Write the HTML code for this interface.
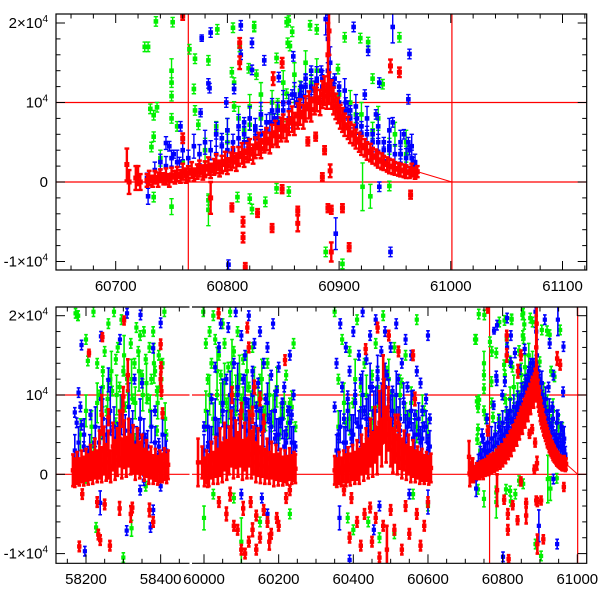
<!DOCTYPE html>
<html><head><meta charset="utf-8"><title>Light curve</title>
<style>
html,body{margin:0;padding:0;background:#fff;}
svg{display:block;font-family:"Liberation Sans",Arial,sans-serif;}
</style></head>
<body>
<svg id="chart" width="600" height="600" viewBox="0 0 600 600">
<defs>
<clipPath id="clipTop"><rect x="56" y="14" width="530.7" height="256"/></clipPath>
<clipPath id="clipB1"><rect x="56" y="307" width="134" height="256.3"/></clipPath>
<clipPath id="clipB2"><rect x="192" y="307" width="394.7" height="256.3"/></clipPath>
</defs>
<g id="gTop"></g>
<g id="gBot"></g>
</svg>
<script>
// ---- Data (MJD, flux in units of 1000, error in 1000) ----
const seasonLabelsTop = [60700, 60800, 60900, 61000, 61100];
const seasonLabelsBot1 = [58200, 58400];
const seasonLabelsBot2 = [60000, 60200, 60400, 60600, 60800, 61000];
const yTickValues = [20, 10, 0, -10];
const yTickLabels = ["2×10|4", "10|4", "0", "-1×10|4"];
const verticalMarkers = [60765, 61001];
const horizontalMarkers = [0, 10];

const redPoints = [
[58165,.5,2],[58170,.2,1.8],[58176,.8,2],[58182,.3,1.7],[58188,1,2],[58194,.4,1.8],[58200,1.2,2],[58206,.6,1.9],[58212,1.5,2.2],[58218,.8,2],[58224,2,2.5],[58230,1,2],[58236,2.5,3],[58242,1.2,2.2],[58248,3,3],[58254,1.5,2.3],[58260,2.5,3],[58266,1,2],[58272,3.5,3],[58278,1.8,2.5],[58284,2.8,3],[58290,4.5,3.5],[58296,2,2.5],[58302,3.8,3],[58308,2.2,2.5],[58314,4,3],[58320,2.5,2.5],[58326,3.2,3],[58332,1.5,2.2],[58338,3,2.8],[58344,1.8,2.3],[58350,2.5,2.5],[58356,1.2,2],[58362,2,2.3],[58368,.8,2],[58374,1.5,2],[58380,.6,1.8],[58386,1.2,2],[58392,.5,1.8],[58398,1,2],[58404,.8,1.8],[58410,1.3,2],[58416,.7,1.8],[58420,1.2,1.8],
[58300,9.8,1.2],[58298,8,2],[58312,12.5,2],[58244,17.3,.5],[58242,7.5,2.5],[58260,7.2,1],[58208,15.3,.4],[58302,19.4,.5],[58400,16.4,.6],[58401,13.5,.6],[58400,12,.6],[58402,10.5,.6],[58405,7.7,.6],
[58182,-9.1,.6],[58233,-7.6,.6],[58238,-8.3,.6],[58264,-9,.6],[58250,-3.8,.6],[58290,-4.3,.8],[58320,-5,1],[58324,-4.2,.6],[58370,-4.5,.8],[58380,-6,.6],[58190,-2.5,.6],[58230,-3.5,.6],
[59984,1.5,3],[59995,1.5,2],[60001,.3,1.8],[60007,1,2],[60013,.5,2],[60019,1.8,2.3],[60025,.8,2],[60031,2.2,2.5],[60037,1,2.2],[60043,2.8,3],[60049,1.5,2.5],[60055,3.5,3],[60061,1.8,2.5],[60067,3,3],[60073,4.5,3.5],[60079,2,2.5],[60085,3.8,3],[60091,2.5,2.8],[60097,4.2,3.2],[60103,1.8,2.5],[60109,3.5,3],[60115,2,2.5],[60121,4.5,3.5],[60127,2.5,3],[60133,3,3],[60139,1.5,2.5],[60145,2.8,3],[60151,1.2,2.3],[60157,2.5,2.8],[60163,1,2.2],[60169,2,2.5],[60175,.8,2],[60181,1.8,2.3],[60187,.5,2],[60193,1.5,2.2],[60199,.6,2],[60205,1.2,2],[60211,.4,1.8],[60217,1,2],[60223,.5,1.8],[60229,1.3,2],[60235,.6,1.8],[60241,1,1.8],[60245,.7,1.8],
[60039,20.3,.6],[60116,18.5,.6],[60120,16,.6],[60135,11,.8],[60150,9.5,.8],[60217,14.4,.6],[60075,10,1],[60130,7.5,1],[60160,6.5,1],[60100,8,1],
[60040,-3.5,.6],[60060,-5,.8],[60080,-6.5,.6],[60090,-7,.6],[60100,-9.5,.6],[60110,-10,.6],[60120,-8.5,.6],[60130,-7,.8],[60140,-9.5,.6],[60150,-8,.6],[60160,-4.5,.6],[60170,-6,.6],[60180,-7.5,.6],[60200,-6.5,.6],[60220,-3,.6],[60230,-2,.6],[60070,-2.5,.8],[60010,-1,.6],[60105,-4.3,.8],[60125,-3.5,.6],[60140,-5.2,.6],[60175,-8.5,1],[60195,-5.5,.6],
[60350,.5,1.8],[60356,.2,1.8],[60362,.8,2],[60368,.3,1.8],[60374,1,2],[60380,.5,2],[60386,1.2,2.2],[60392,.6,2],[60398,1.5,2.2],[60404,.8,2],[60410,1.8,2.5],[60416,1,2.2],[60422,2.5,2.5],[60428,1.5,2.3],[60434,3,2.8],[60440,2,2.5],[60446,4,3],[60452,2.5,2.8],[60458,5,3.5],[60464,3,3],[60470,6.5,4],[60476,4,3],[60482,8,4],[60488,5,3.5],[60494,7,4],[60500,4,3],[60506,3,2.8],[60512,4.5,3],[60518,2.5,2.5],[60524,3.5,2.8],[60530,2,2.5],[60536,3,2.5],[60542,1.5,2.2],[60548,2.5,2.5],[60554,1.2,2.2],[60560,2,2.3],[60566,1,2],[60572,1.5,2],[60578,.8,2],[60584,1.2,2],[60590,.6,1.8],[60596,1,1.8],[60602,.5,1.8],[60608,.8,1.8],
[60433,15.8,.6],[60465,18.5,.6],[60480,11,4],[60495,17.5,.6],[60521,15.5,.6],[60560,15,.6],[60565,9.5,.8],[60520,6.5,1],
[60390,-8,.6],[60410,-6,.6],[60420,-9,.6],[60430,-5,.6],[60445,-4.2,.6],[60450,-8.5,.6],[60460,-5.5,.6],[60470,-10.5,.6],[60480,-6.5,.6],[60490,-9.5,3],[60500,-4.5,.6],[60510,-7,.6],[60530,-9.5,.6],[60540,-4,.6],[60550,-7.5,.6],[60570,-5,.6],[60580,-9,.6],[60590,-6.5,.6],[60600,-3.5,.6],[60395,-3,.6],[60375,-2,.6],
[60710,2.2,2],[60712,0,1.5],[60718,.5,1.5],[60720,.8,1.2],[60722,0,1],
[60728,.2,.8],[60730,.5,.9],[60733,.1,.7],[60735,.6,.8],[60738,.3,.9],[60740,.8,.8],[60743,.4,.7],[60745,.7,1],[60748,.2,.8],[60750,.9,.9],[60753,.6,.8],[60755,1,.9],[60758,.7,.8],[60760,1.3,1],[60763,.8,.9],[60765,1.1,.9],[60768,1.5,1],[60770,.9,.8],[60773,1.3,.9],[60775,1.7,1],[60778,1.2,.9],[60780,1.6,1],[60783,2,1.1],[60785,1.4,.9],[60788,1.9,1],[60790,2.3,1.2],[60793,1.7,1],[60795,2.2,1.1],[60798,2.6,1.2],[60800,2,1],[60803,2.6,1.1],[60805,3.1,1.3],[60808,2.5,1.1],[60810,3.2,1.2],[60813,3.6,1.3],[60815,3,1.1],[60818,3.7,1.2],[60820,4.1,1.3],[60823,3.5,1.2],[60825,4.3,1.3],[60828,4.8,1.4],[60830,4.2,1.2],[60833,5,1.3],[60835,5.4,1.4],[60838,4.9,1.3],[60840,5.8,1.4],[60843,6.2,1.5],[60845,5.7,1.3],[60848,6.6,1.5],[60850,7,1.5],[60853,6.5,1.4],[60855,7.4,1.5],[60858,7.9,1.6],[60860,7.3,1.4],[60863,8.3,1.6],[60865,8.8,1.6],[60868,8.2,1.5],[60870,9.2,1.6],[60873,9.7,1.7],[60875,9.1,1.5],[60878,10.2,1.7],[60880,10.6,1.7],[60883,10,1.6],[60885,11,1.7],[60887,11.5,1.8],[60889,10.8,1.6],[60891,11.8,2],[60893,11,1.8],[60895,10.2,1.7],[60897,9.5,1.6],[60899,9,1.6],[60901,8.2,1.5],[60903,7.8,1.5],[60905,7.2,1.4],[60908,6.8,1.4],[60910,6.2,1.3],[60913,5.9,1.3],[60915,5.4,1.2],[60918,5,1.2],[60920,4.6,1.2],[60923,4.3,1.1],[60925,3.9,1.1],[60928,3.7,1.1],[60930,3.3,1],[60933,3.1,1],[60935,2.8,1],[60938,2.6,1],[60940,2.4,.9],[60943,2.2,.9],[60945,2,.9],[60948,1.9,.9],[60950,1.7,.8],[60953,1.6,.8],[60955,1.5,.8],[60958,1.4,.8],[60960,1.3,.8],[60963,1.2,.7],[60965,1.5,.8],[60968,1.1,.7],[60970,1.3,.7],
[60890,16,4],[60891,19,3],[60760,20.9,.5],[60760,5.5,.6],[60814,-5,.6],[60814,-7,.6],[60816,-10.7,.5],[60804,-3.2,.5],[60827,-3.9,.5],[60840,-5.8,.5],[60849,-.9,.5],[60863,-5.2,1],[60841,13,.8],[60849,15,.6],[60811,17.5,.6],[60811,15,.8],[60785,-2,2],
[60872,5.1,.5],[60879,5.7,.5],[60887,4,.5],[60892,1.4,.8],[60885,.6,.5],[60890,-3.3,.5],[60893,-3.5,.5],[60903,-3.3,.5],[60964,-1.6,.5],[60946,14.6,.8],[60954,13.8,.6],[60863,-3.6,.5],[60893,-8.8,1.2],[60909,-8.2,.5]
];

const bluePoints = [
[58170,7.8],[58175,6.5],[58180,10.3],[58185,8.5],[58188,6.2],[58194,3.5],[58188,16.3],[58212,7.5],[58222,4],[58240,9.5,1.5],[58240,17.4],[58260,11.9,1.5],[58270,5.5],[58291,17],[58309,-7.1],[58310,20.3],[58330,12],[58340,5],[58346,20.1],[58350,11.5],[58360,4.5],[58380,15.9],[58373,-6.7],[58380,-4.5],[58400,19.1],[58385,8],[58395,3.5],[58400,-1.5],[58410,2.5],[58238,-3.6,1.5],[58197,-9.7],[58345,-2],[58355,-.8],
[58205,2.5,1],[58250,3.5,1.5],[58280,4.5,1.5],[58320,5,2],[58360,2.5,1.5],[58415,3,1.2],
[60000,6],[60010,3.5],[60020,9.5],[60030,13.5],[60040,16],[60045,19],[60050,8],[60060,12],[60065,18.5],[60070,5.5],[60080,14],[60085,20.5],[60090,10],[60095,7],[60100,17.5],[60105,12],[60110,15],[60115,9],[60120,20],[60125,6],[60130,13],[60135,16.5],[60140,8.5],[60145,11.5],[60150,18],[60155,5.5],[60160,14],[60165,9.5],[60170,16],[60175,7],[60180,12.5],[60185,19],[60190,4.5],[60195,10.5],[60200,13.5],[60205,6.5],[60210,9],[60215,11],[60220,5],[60225,8],[60230,15],[60235,7.5],[60240,10],[60245,3.5],[60170,-5],[60155,-3],[60100,-2.5],
[60015,4,2],[60035,5,2],[60055,4.5,2],[60075,6,2.5],[60095,5,2],[60115,5.5,2.5],[60135,4.5,2],[60155,6,2.5],[60175,4,2],[60195,5,2],[60215,3.5,2],[60235,4,2],
[60350,8.5],[60355,14],[60360,5],[60365,19],[60370,11],[60375,7],[60380,16],[60385,9.5],[60390,13],[60395,4.5],[60400,18],[60405,10],[60410,6.5],[60415,15],[60420,12],[60425,20.5],[60430,8],[60435,14.5],[60440,5.5],[60445,17.5],[60450,11],[60455,7.5],[60460,19.5],[60465,13],[60470,9],[60475,15.5],[60480,6],[60485,18],[60490,12.5],[60495,8.5],[60500,16],[60505,10.5],[60510,7],[60515,19],[60520,12],[60525,5.5],[60530,14],[60535,9],[60540,17],[60545,11],[60550,6.5],[60555,15],[60560,10],[60565,7.5],[60570,13],[60575,5],[60580,11.5],[60585,8],[60590,6],[60595,9.5],[60600,4],[60605,7],[60600,17.5],[60363,-5.5,1.5],[60390,-10.8],[60470,-4],[60455,-7],[60550,-2.5],[60600,-3.5,1.5],
[60360,3,2],[60380,4,2],[60400,5,2.5],[60420,6,2.5],[60440,7,3],[60460,8,3],[60480,9,3],[60500,7,3],[60520,6,2.5],[60540,5,2.5],[60560,4.5,2],[60580,4,2],[60600,3,2],
[60728,.5],[60729,-1.8,1],[60745,4.9,.8],[60748,4.5],[60752,3.5,.5],[60758,7,.6],[60757,2.5],[60776,8.7,.5],[60777,18.1,.4],[60783,12.4,.6],[60785,18.8,.6],[60784,11.8],[60790,6],[60795,5.5],[60799,10],[60801,-10.4],[60806,11.7],[60812,19.7],[60812,16],[60815,7.5],[60818,5],[60822,14.1],[60822,17.5],[60825,6.5],[60830,6],[60833,15.3],[60846,13.2],[60842,8],[60845,7.5],[60850,9],[60859,15.8],[60858,11],[60862,10],[60866,12],[60870,13],[60875,14],[60880,12.5],[60884,14],[60888,20.5,2],[60890,18,3],[60892,15,2],[60896,13],[60900,12],[60913,19.5],[60906,10],[60910,9],[60916,8],[60920,7],[60923,11],[60926,16.5],[60930,6],[60933,8.5],[60936,12.5],[60940,5],[60948,19.5,2],[60945,4.5],[60948,7.5],[60962,10.4],[60955,3.5],[60958,6],[60963,16.1],[60963,4],[60966,2.5],[60968,2],[60946,-8.8,.6],[60936,-.6],[60962,5],[60897,-6.5,2],
[60790,3.5,1],[60800,4,1],[60805,5,1],[60810,5.5,1],[60815,6,1],[60825,7,1],[60835,7.5,1],[60845,9,1],[60855,10,1],[60865,11,1],[60875,12,1],[60885,13,1],[60895,12,1],[60905,9,1],[60915,7,1],[60925,6,1],[60935,5,1],[60945,4,1],[60955,3.5,1],[60965,3,1]
];

const blueExtraPoints = [
[58170,3,2],[58180,4,2],[58195,5,2],[58210,3,2],[58225,6,2.5],[58235,4,2],[58245,7,2.5],[58255,5,2],[58265,8,3],[58275,6,2.5],[58285,4.5,2],[58295,7.5,2.5],[58305,5.5,2],[58315,8.5,3],[58325,6,2],[58335,4,2],[58345,7,2.5],[58355,5,2],[58365,3.5,2],[58375,6,2],[58385,4,2],[58395,2.5,2],[58405,5,2],[58412,3,2],
[60000,3,2],[60010,6,2],[60020,4,2],[60030,7,2.5],[60040,5,2],[60050,9,3],[60060,6,2],[60070,10,3],[60080,7,2.5],[60090,11,3],[60100,6,2],[60110,9.5,3],[60120,7,2.5],[60130,10,3],[60140,6,2],[60150,8,2.5],[60160,5.5,2],[60170,9,2.5],[60180,6,2],[60190,8,2.5],[60200,5,2],[60210,7,2.5],[60220,4,2],[60230,6.5,2],[60240,4,2],
[60355,3,2],[60365,6,2],[60375,4,2],[60385,8,2.5],[60395,5.5,2],[60405,9,2.5],[60415,6,2],[60425,10,3],[60435,7,2.5],[60445,11,3],[60455,8,2.5],[60465,12,3],[60475,9,2.5],[60485,11,3],[60495,9.5,2.5],[60505,8,2.5],[60515,10,3],[60525,7,2.5],[60535,9,2.5],[60545,6,2],[60555,8,2.5],[60565,5,2],[60575,7,2],[60585,4.5,2],[60595,6,2],[60605,3.5,2],
[60735,1.5,1],[60740,2.5,1],[60745,2,1.2],[60750,3,1],[60755,2.5,1.5],[60760,4,1.2],[60765,3,1],[60770,4.5,1.5],[60775,3.5,1.2],[60780,5,1.5],[60785,4,1.2],[60790,6,1.5],[60795,4.5,1.2],[60800,6.5,1.5],[60805,4,1],[60810,7,1.5],[60815,5,1.2],[60820,8,1.5],[60825,5.5,1.2],[60830,8.5,1.5],[60835,6.5,1.2],[60840,9,1.5],[60845,7,1.2],[60850,10,1.5],[60855,8,1.2],[60860,11,1.5],[60865,9.5,1.2],[60870,12,1.5],[60875,10.5,1.2],[60880,13,1.5],[60885,12,1.5],[60890,14,2],[60895,11,1.5],[60900,10,1.5],[60905,11.5,1.5],[60910,8,1.2],[60915,9.5,1.5],[60920,6,1.2],[60925,8,1.5],[60930,5,1.2],[60935,7,1.5],[60940,4,1.2],[60945,6.5,1.5],[60950,3.5,1.2],[60955,5,1.5],[60960,3,1.2],[60965,4.5,1.5],[60968,2.5,1],[60838,7.5,1.2],[60868,10.8,1.2],[60878,11.5,1.2],[60908,9,1.2]
];

const greenPoints = [
[58172,20.3],[58178,20],[58179,20],[58200,17],[58205,14.3],[58220,20.5],[58230,14],[58235,10],[58245,13],[58250,15.5],[58255,8],[58260,19],[58265,12],[58270,10.5],[58275,20.5],[58280,14.5],[58285,16],[58290,11],[58295,19.5],[58300,13],[58305,8.5],[58310,12],[58320,16.5],[58325,9.5],[58330,14],[58335,18.5],[58340,15.5],[58345,17.5],[58350,12.5],[58355,18],[58360,14.5],[58365,9.5],[58370,16],[58375,12],[58380,18],[58385,13],[58390,10.5],[58395,15],[58400,11],[58405,14],[58410,20.5],[58415,5],[58227,-6.7],[58300,-10.5],[58322,-6.8,1],[58240,5],[58220,3.5],[58280,6.5],[58330,4.5],[58390,5.5],[58360,-1.5],[58200,-.5],
[59998,20.5],[60005,16.5],[60010,12],[60015,18],[60020,14],[60025,20],[60030,17],[60035,10],[60040,15],[60045,12.5],[60050,19],[60055,16.5],[60060,9],[60065,13.5],[60070,20.5],[60075,11],[60080,15.5],[60085,8],[60090,18],[60095,12],[60100,9.5],[60105,14.5],[60110,7],[60120,11],[60130,16],[60140,5.5],[60150,12],[60160,8],[60170,14],[60180,6],[60190,10],[60200,4.5],[60210,7.5],[60220,12.5],[60230,9],[60240,16.5],[60245,6],[60000,-5.5,1.5],[60100,-8.5,3],[60150,-6],[60230,-5],[60080,-3],[60025,-2.5],
[60350,20.5],[60360,12],[60370,17],[60380,6.5],[60390,15.5],[60400,9],[60410,19.5],[60420,11],[60430,14],[60440,7],[60450,12.5],[60460,16.5],[60470,8.5],[60480,20],[60490,13],[60500,10],[60510,16],[60520,6],[60530,11.5],[60540,15],[60550,7.5],[60560,10],[60570,19.5],[60580,5],[60590,8],[60385,-5.5],[60400,-7],[60440,-6],[60470,-8],[60510,-7.5],[60560,-2.5],[60600,-4],[60355,-1],
[60726,17],[60729,17],[60736,20.2],[60751,20.1],[60750,14,1.5],[60750,12.5],[60750,10.8],[60731,9.2],[60734,8.4],[60737,9.4],[60750,8],[60755,7],[60734,5.7],[60732,4.4],[60734,-1.9],[60750,-3.1,1],[60766,16.7],[60771,15.5],[60770,11.7],[60771,9],[60774,7.2],[60783,15.3],[60783,-2.3],[60783,-3.5,2],[60791,19.2],[60804,13.8],[60806,12.5],[60806,9.5],[60811,17],[60819,14.3],[60822,-3.4],[60824,19.6],[60826,13.5],[60834,-2.5],[60844,15.6],[60844,-.8],[60855,-1.2],[60853,20.1],[60858,18.9],[60854,17.5],[60853,11.1],[60850,7],[60820,7.2],[60790,7],
[60805,19.4],[60824,19.5],[60855,20.3],[60874,19.7],[60880,19.2],[60905,18.2],[60919,18.1],[60926,17.6],[60954,18.2],[60856,17.1],[60899,14.2],[60939,12.3],[60930,13],[60921,-.6,3],[60945,-.5],[60928,-1.8,1.5],[60820,-2.1],[60809,-1.9],[60888,-8.8],[60903,-10.3],
[60800,5,1],[60815,6.5,1],[60830,8,1],[60845,9.5,1],[60860,11,1],[60875,12.5,1],[60900,11,1],[60915,8.5,1],[60930,6.5,1],[60945,4.5,1],[60960,3.5,1]
];

const greenExtraPoints = [
[58185,5,2],[58200,8,2],[58215,6,2],[58230,9,2.5],[58245,11,2.5],[58258,9.5,2.5],[58268,13,2.5],[58282,10,2.5],[58292,8,2],[58302,15,2.5],[58312,10.5,2],[58322,12,2.5],[58332,9,2],[58342,13,2.5],[58352,10,2],[58362,11.5,2.5],[58372,8,2],[58382,14,2.5],[58392,9,2],[58402,12,2.5],[58412,7,2],
[60005,8,2.5],[60015,10,2.5],[60025,7,2],[60035,13,3],[60045,9,2.5],[60055,11.5,2.5],[60065,8,2],[60075,14,3],[60085,10,2.5],[60095,12.5,2.5],[60105,9,2],[60115,13,2.5],[60125,8.5,2],[60135,11,2.5],[60145,9,2],[60155,12,2.5],[60165,7.5,2],[60175,10,2.5],[60185,8,2],[60195,11,2.5],[60205,7,2],[60215,9,2],[60225,6.5,2],[60235,8.5,2],
[60360,6,2],[60375,9,2.5],[60390,7,2],[60405,12,2.5],[60420,8,2],[60435,10,2.5],[60450,6.5,2],[60465,11,2.5],[60480,9,2],[60495,12,2.5],[60510,8,2],[60525,10,2.5],[60540,7,2],[60555,9,2],[60570,6,2],[60585,8,2],[60600,5,2],
[60740,3,1],[60760,2.5,1.5],[60780,4,1.5],[60800,6.5,1.5],[60810,8,1.5],[60820,9.5,1.5],[60830,11,1.5],[60840,10,1.5],[60850,12.5,1.5],[60860,13.5,1.5],[60870,15,1.5],[60880,14,1.5],[60910,10,1.5],[60920,8.5,1.5],[60935,8,1.5],[60950,6,1.5],[60960,5,1.5],[60845,9,1.2],[60865,11.5,1.2]
];

// ---- scales ----
const NS = "http://www.w3.org/2000/svg";
function xTop(v){ return 115.7 + (v - 60700) * 1.117; }
function yTop(f){ return 182 - f * 7.95; }
function xBot(v){ return v < 59000 ? 86 + (v - 58200) * 0.3733 : 204 + (v - 60000) * 0.3733; }
function yBot(f){ return 474.3 - f * 7.93; }

function mk(tag, attrs, parent){
  const e = document.createElementNS(NS, tag);
  for (const k in attrs) e.setAttribute(k, attrs[k]);
  parent.appendChild(e);
  return e;
}
const colors = { red: "#ff0000", green: "#00f000", blue: "#0000ff" };

function drawSeries(parent, pts, colorName, xf, yf, clip, cap, sw, ms){
  const g = mk("g", {"clip-path": "url(#" + clip + ")"}, parent);
  
  
  const c = colors[colorName];
  pts.forEach(function(p){
    const e = p.length > 2 ? p[2] : 0.6;
    const x = xf(p[0]), y = yf(p[1]);
    const y1 = yf(p[1] - e), y2 = yf(p[1] + e);
    const bar = mk("path", {d: "M" + x + " " + y1 + "V" + y2 + "M" + (x-cap) + " " + y1 + "H" + (x+cap) + "M" + (x-cap) + " " + y2 + "H" + (x+cap), stroke: c, "stroke-width": sw, fill: "none"}, g);
    
    
    const r = mk("rect", {x: x - ms/2, y: y - ms/2, width: ms, height: ms, fill: c}, g);
    
    
  });
}

function drawTicksY(parent, yf, x0, x1, yTopEdge, yBotEdge){
  for (let v = -10; v <= 20; v += 2){
    const y = yf(v);
    if (y < yTopEdge || y > yBotEdge) continue;
    const len = (v % 10 === 0) ? 9 : 4.5;
    mk("line", {x1: x0, y1: y, x2: x0 + len, y2: y, stroke: "#000", "stroke-width": 1}, parent);
    mk("line", {x1: x1, y1: y, x2: x1 - len, y2: y, stroke: "#000", "stroke-width": 1}, parent);
  }
}
function drawYLabels(parent, yf){
  yTickValues.forEach(function(v, i){
    const parts = yTickLabels[i].split("|");
    const t = mk("text", {x: 48, y: yf(v) + 5, "text-anchor": "end", "font-size": 15, fill: "#000"}, parent);
    
    
    t.appendChild(document.createTextNode(parts[0]));
    if (parts.length > 1){
      const s = mk("tspan", {dy: -6, "font-size": 10}, t);
      s.textContent = parts[1];
    }
  });
}

const allBlue = bluePoints.concat(blueExtraPoints);
const allGreen = greenPoints.concat(greenExtraPoints);

// ---- TOP PANEL ----
const gTop = document.getElementById("gTop");
const L = 56, R = 586.7;
horizontalMarkers.forEach(function(v){
  const l = mk("line", {x1: L, x2: R, y1: yTop(v), y2: yTop(v), stroke: "#ff0000", "stroke-width": 1.2}, gTop);
  
  
});
verticalMarkers.forEach(function(v){
  const l = mk("line", {x1: xTop(v), x2: xTop(v), y1: 14, y2: 270, stroke: "#ff0000", "stroke-width": 1.2}, gTop);
  
  
});
const tailT = mk("line", {x1: xTop(60970), y1: yTop(1.3), x2: xTop(61001), y2: yTop(0), stroke: "#ff0000", "stroke-width": 1}, gTop);


drawSeries(gTop, allGreen, "green", xTop, yTop, "clipTop", 2.2, 1.4, 4.6);
drawSeries(gTop, allBlue, "blue", xTop, yTop, "clipTop", 2.2, 1.4, 4.6);
drawSeries(gTop, redPoints, "red", xTop, yTop, "clipTop", 2.4, 2.4, 5);
const fT = mk("rect", {x: L, y: 14, width: R - L, height: 256, fill: "none", stroke: "#000", "stroke-width": 1.2}, gTop);


for (let v = 60660; v <= 61120; v += 20){
  const x = xTop(v);
  if (x < L || x > R) continue;
  const len = (v % 100 === 0) ? 9 : 4.5;
  mk("line", {x1: x, x2: x, y1: 270, y2: 270 - len, stroke: "#000"}, gTop);
  mk("line", {x1: x, x2: x, y1: 14, y2: 14 + len, stroke: "#000"}, gTop);
}
drawTicksY(gTop, yTop, L, R, 14, 270);
seasonLabelsTop.forEach(function(v){
  const t = mk("text", {x: xTop(v), y: 291, "text-anchor": "middle", "font-size": 15}, gTop);
  
  
  t.textContent = v;
});
drawYLabels(gTop, yTop);

// ---- BOTTOM PANEL ----
const gBot = document.getElementById("gBot");
const BT = 307, BB = 563.3;
horizontalMarkers.forEach(function(v){
  [[L, 189.5], [192, R]].forEach(function(seg){
    const l = mk("line", {x1: seg[0], x2: seg[1], y1: yBot(v), y2: yBot(v), stroke: "#ff0000", "stroke-width": 1.2}, gBot);
    
    
  });
});
verticalMarkers.forEach(function(v){
  const l = mk("line", {x1: xBot(v), x2: xBot(v), y1: BT, y2: BB, stroke: "#ff0000", "stroke-width": 1.2}, gBot);
  
  
});
const tailB = mk("line", {x1: xBot(60970), y1: yBot(1.3), x2: xBot(61001), y2: yBot(0), stroke: "#ff0000", "stroke-width": 1}, gBot);


["clipB1", "clipB2"].forEach(function(cl){
  drawSeries(gBot, allGreen, "green", xBot, yBot, cl, 1.8, 1.6, 4.2);
  drawSeries(gBot, allBlue, "blue", xBot, yBot, cl, 1.8, 1.6, 4.2);
  drawSeries(gBot, redPoints, "red", xBot, yBot, cl, 1.8, 2.6, 4.4);
});
const fB = mk("path", {d: "M189.5 " + BT + "H" + L + "V" + BB + "H189.5M192 " + BT + "H" + R + "V" + BB + "H192", fill: "none", stroke: "#000", "stroke-width": 1.2}, gBot);


function botXTicks(v0, v1){
  for (let v = v0; v <= v1; v += 50){
    const x = xBot(v);
    if (x < L || x > R) continue;
    if (v < 59000 && x > 189.5) continue;
    if (v > 59000 && x < 192) continue;
    const len = (v % 200 === 0) ? 9 : 4.5;
    mk("line", {x1: x, x2: x, y1: BB, y2: BB - len, stroke: "#000"}, gBot);
    mk("line", {x1: x, x2: x, y1: BT, y2: BT + len, stroke: "#000"}, gBot);
  }
}
botXTicks(58100, 58500);
botXTicks(59950, 61050);
drawTicksY(gBot, yBot, L, R, BT, BB);
seasonLabelsBot1.concat(seasonLabelsBot2).forEach(function(v){
  const t = mk("text", {x: xBot(v), y: 584, "text-anchor": "middle", "font-size": 15}, gBot);
  
  
  t.textContent = v;
});
drawYLabels(gBot, yBot);
</script>
</body></html>
